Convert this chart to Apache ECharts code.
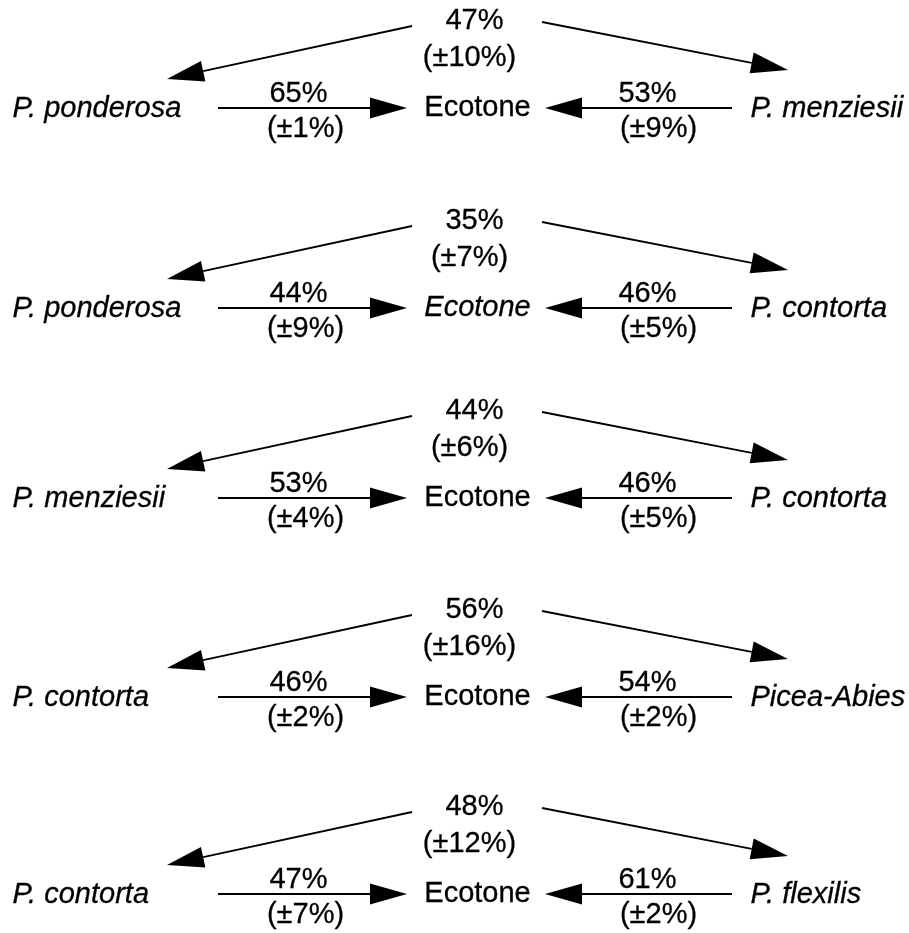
<!DOCTYPE html>
<html>
<head>
<meta charset="utf-8">
<script src="https://cdn.jsdelivr.net/npm/echarts@6/dist/echarts.min.js"></script>
<style>
html,body{margin:0;padding:0;background:#fff;}
#chart{width:909px;height:933px;}
</style>
</head>
<body>
<div id="chart"></div>
<script>
// ---- data ----
const leftSpecies  = ['P. ponderosa', 'P. ponderosa', 'P. menziesii', 'P. contorta', 'P. contorta'];
const rightSpecies = ['P. menziesii', 'P. contorta', 'P. contorta', 'Picea-Abies', 'P. flexilis'];
const centerLabels = ['Ecotone', 'Ecotone', 'Ecotone', 'Ecotone', 'Ecotone'];
const centerItalic = [false, true, false, false, false];
const leftPct  = [65, 44, 53, 46, 47];
const leftErr  = [1, 9, 4, 2, 7];
const rightPct = [53, 46, 46, 54, 61];
const rightErr = [9, 5, 5, 2, 2];
const topPct   = [47, 35, 44, 56, 48];
const topErr   = [10, 7, 6, 16, 12];

// ---- layout ----
const W = 909, H = 933;
const rowY = [108, 308, 498, 697, 894];
const FONT = "'Liberation Sans', Arial, Helvetica, sans-serif";
const FS = 29;

const leftText = [], rightText = [], centerText = [], pctText = [];
const arrows = [];
rowY.forEach((y, i) => {
  leftText.push({ name: leftSpecies[i], value: [13, y + 1] });
  rightText.push({ name: rightSpecies[i], value: [751, y + 1] });
  centerText.push({ name: centerLabels[i], value: [478, y], label: { fontStyle: centerItalic[i] ? 'italic' : 'normal' } });
  pctText.push({ name: topPct[i] + '%', value: [475, y - 87] });
  pctText.push({ name: '(±' + topErr[i] + '%)', value: [470, y - 50] });
  pctText.push({ name: leftPct[i] + '%', value: [299, y - 14] });
  pctText.push({ name: '(±' + leftErr[i] + '%)', value: [306, y + 21] });
  pctText.push({ name: rightPct[i] + '%', value: [648, y - 14] });
  pctText.push({ name: '(±' + rightErr[i] + '%)', value: [659, y + 21] });
  arrows.push([218, y, 407, y]);
  arrows.push([732, y, 545, y]);
  arrows.push([412, y - 82, 167, y - 29]);
  arrows.push([542, y - 86, 788, y - 38]);
});

const HEAD_LEN = 37, HEAD_HALF = 10.5;
function renderArrow(params, api) {
  const p1 = api.coord([api.value(0), api.value(1)]);
  const p2 = api.coord([api.value(2), api.value(3)]);
  const dx = p2[0] - p1[0], dy = p2[1] - p1[1];
  const len = Math.sqrt(dx * dx + dy * dy);
  const ux = dx / len, uy = dy / len;
  const bx = p2[0] - ux * HEAD_LEN, by = p2[1] - uy * HEAD_LEN;
  const nx = -uy, ny = ux;
  return {
    type: 'group',
    children: [
      { type: 'line', shape: { x1: p1[0], y1: p1[1], x2: bx, y2: by },
        style: { stroke: '#000', lineWidth: 1.8 } },
      { type: 'polygon', shape: { points: [[p2[0], p2[1]], [bx + nx * HEAD_HALF, by + ny * HEAD_HALF], [bx - nx * HEAD_HALF, by - ny * HEAD_HALF]] },
        style: { fill: '#000' } }
    ]
  };
}

function textSeries(data, align, italic) {
  return {
    type: 'scatter',
    data: data,
    symbolSize: 1,
    itemStyle: { color: 'rgba(0,0,0,0)' },
    silent: true,
    label: {
      show: true,
      position: [0, 0],
      align: align,
      verticalAlign: 'middle',
      formatter: p => p.name,
      color: '#000',
      opacity: 1,
      textBorderColor: '#000',
      textBorderWidth: 0.3,
      fontFamily: FONT,
      fontSize: FS,
      fontWeight: 'normal',
      fontStyle: italic ? 'italic' : 'normal'
    }
  };
}

const chart = echarts.init(document.getElementById('chart'), null, { renderer: 'canvas' });
chart.setOption({
  backgroundColor: '#fff',
  animation: false,
  grid: { left: 0, right: 0, top: 0, bottom: 0 },
  xAxis: { type: 'value', min: 0, max: W, show: false },
  yAxis: { type: 'value', min: 0, max: H, inverse: true, show: false },
  series: [
    { type: 'custom', renderItem: renderArrow, data: arrows, encode: { x: [0, 2], y: [1, 3] }, silent: true },
    textSeries(leftText, 'left', true),
    textSeries(rightText, 'left', true),
    textSeries(centerText, 'center', false),
    textSeries(pctText, 'center', false)
  ]
});
</script>
</body>
</html>
